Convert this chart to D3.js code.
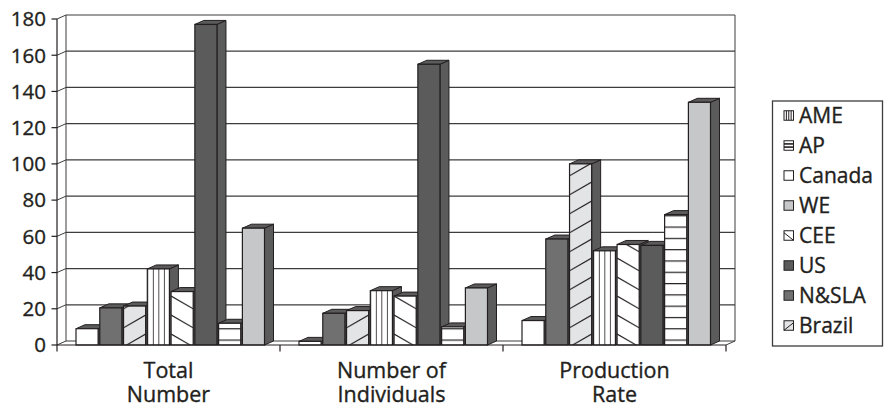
<!DOCTYPE html>
<html>
<head>
<meta charset="utf-8">
<script src="https://cdn.jsdelivr.net/npm/d3@7"></script>
<style>
  body { margin: 0; background: #fff; }
  svg { display: block; }
  text { font-family: "Open Sans", "Noto Sans", sans-serif; fill: #231f20; stroke: #231f20; stroke-width: 0.35px; }
</style>
</head>
<body>
<svg id="chart" width="884" height="406"></svg>
<script>
// categories, two text lines each
var categories = ["Total Number", "Number of Individuals", "Production Rate"];
var categoryLines = [["Total", "Number"], ["Number of", "Individuals"], ["Production", "Rate"]];

// legend order
var legendOrder = ["AME", "AP", "Canada", "WE", "CEE", "US", "N&SLA", "Brazil"];
// order of the bars inside each group
var barOrder = ["Canada", "N&SLA", "Brazil", "AME", "CEE", "US", "AP", "WE"];

// values per series: Total Number, Number of Individuals, Production Rate
var AME    = [42, 30, 52];
var AP     = [12, 10, 72];
var Canada = [9, 2, 13.5];
var WE     = [64.5, 31.5, 134];
var CEE    = [29.5, 27, 55.5];
var US     = [177, 155, 55];
var NSLA   = [20.5, 17.5, 58.5];
var Brazil = [21.5, 19, 100];

var yTicks = [0, 20, 40, 60, 80, 100, 120, 140, 160, 180];

var values = {"AME": AME, "AP": AP, "Canada": Canada, "WE": WE, "CEE": CEE,
              "US": US, "N&SLA": NSLA, "Brazil": Brazil};

var svg = d3.select("svg#chart");
var defs = svg.append("defs");

var ink = "#231f20",
    sideFill = "#5b5b5c",
    dx = 9, dy = -4;

var y = d3.scaleLinear().domain([0, 180]).range([345, 19]);
var x0 = d3.scaleBand().domain(categories).range([57, 726]);
var x1 = d3.scaleBand().domain(barOrder).range([19, 207.5]).paddingInner(0.07);

// fills / hatch kinds per series
var style = {
  "AME":    {fill: "#fff", hatch: "vert"},
  "AP":     {fill: "#fff", hatch: "horiz"},
  "Canada": {fill: "#fff"},
  "WE":     {fill: "#c6c7c8"},
  "CEE":    {fill: "#fff", hatch: "back"},
  "US":     {fill: "#5b5b5c"},
  "N&SLA":  {fill: "#707071"},
  "Brazil": {fill: "#e3e4e5", hatch: "fwd"}
};

// pattern anchored at (px, py) with tile matched to bar width w
function makePattern(id, kind, bg, px, py, w) {
  var p = defs.append("pattern").attr("id", id)
    .attr("patternUnits", "userSpaceOnUse");
  if (kind === "vert") {
    var sp = w / 4;
    p.attr("x", px).attr("y", py).attr("width", sp).attr("height", 10);
    p.append("rect").attr("width", sp).attr("height", 10).attr("fill", bg);
    p.append("line").attr("x1", 0).attr("x2", 0).attr("y1", 0).attr("y2", 10)
      .attr("stroke", ink).attr("stroke-width", 1.6);
  } else if (kind === "horiz") {
    p.attr("x", px).attr("y", py - 5.5).attr("width", 10).attr("height", 11.3);
    p.append("rect").attr("width", 10).attr("height", 11.3).attr("fill", bg);
    p.append("line").attr("x1", 0).attr("x2", 10).attr("y1", 0).attr("y2", 0)
      .attr("stroke", ink).attr("stroke-width", 2.4);
  } else {
    var th = 19, drop = w * 0.58;
    p.attr("x", px).attr("y", py).attr("width", w).attr("height", th);
    p.append("rect").attr("width", w).attr("height", th).attr("fill", bg);
    [-th, 0, th].forEach(function(o) {
      var a = 8 + o;
      p.append("line")
        .attr("x1", 0).attr("x2", w)
        .attr("y1", kind === "fwd" ? a + drop : a)
        .attr("y2", kind === "fwd" ? a : a + drop)
        .attr("stroke", ink).attr("stroke-width", 1.1);
    });
  }
  return "url(#" + id + ")";
}

// ---- walls and grid ----
var grid = svg.append("g");
grid.selectAll("line.gridline")
  .data(yTicks)
  .enter().append("line")
  .attr("class", "gridline")
  .attr("x1", x0.range()[0] + dx).attr("x2", x0.range()[1] + dx)
  .attr("y1", function(d) { return y(d) + dy; })
  .attr("y2", function(d) { return y(d) + dy; })
  .attr("stroke", "#3d3d3e").attr("stroke-width", 1.2);

// left wall diagonals
grid.selectAll("line.sidegrid")
  .data(yTicks)
  .enter().append("line")
  .attr("class", "sidegrid")
  .attr("x1", x0.range()[0]).attr("x2", x0.range()[0] + dx)
  .attr("y1", function(d) { return y(d); })
  .attr("y2", function(d) { return y(d) + dy; })
  .attr("stroke", "#3d3d3e").attr("stroke-width", 1);

// back wall verticals
grid.append("line")
  .attr("x1", x0.range()[0] + dx).attr("x2", x0.range()[0] + dx)
  .attr("y1", y(180) + dy).attr("y2", y(0) + dy)
  .attr("stroke", "#3d3d3e").attr("stroke-width", 1);
grid.append("line")
  .attr("x1", x0.range()[1] + dx).attr("x2", x0.range()[1] + dx)
  .attr("y1", y(180) + dy).attr("y2", y(0) + dy)
  .attr("stroke", "#3d3d3e").attr("stroke-width", 1);

// floor right diagonal
grid.append("line")
  .attr("x1", x0.range()[1]).attr("x2", x0.range()[1] + dx)
  .attr("y1", y(0)).attr("y2", y(0) + dy)
  .attr("stroke", "#3d3d3e").attr("stroke-width", 1);

// ---- bars ----
var bars = svg.append("g");
categories.forEach(function(cat, ci) {
  barOrder.forEach(function(s) {
    var v = values[s][ci],
        bx = x0(cat) + x1(s),
        w = x1.bandwidth(),
        yt = y(v), yb = y(0);
    var g = bars.append("g");
    // right side face
    g.append("polygon")
      .attr("points", [[bx + w, yt], [bx + w + dx, yt + dy], [bx + w + dx, yb + dy], [bx + w, yb]].join(" "))
      .attr("fill", sideFill).attr("stroke", ink).attr("stroke-width", 1).attr("stroke-linejoin", "round");
    // top face
    g.append("polygon")
      .attr("points", [[bx, yt], [bx + dx, yt + dy], [bx + w + dx, yt + dy], [bx + w, yt]].join(" "))
      .attr("fill", sideFill).attr("stroke", ink).attr("stroke-width", 1).attr("stroke-linejoin", "round");
    // front face
    var st = style[s];
    var fill = st.hatch ? makePattern("p" + ci + barOrder.indexOf(s), st.hatch, st.fill, bx, yb, w) : st.fill;
    g.append("rect")
      .attr("x", bx).attr("y", yt)
      .attr("width", w).attr("height", yb - yt)
      .attr("fill", fill).attr("stroke", ink).attr("stroke-width", 1.2);
  });
});

// ---- axes ----
var axes = svg.append("g");
axes.append("line")
  .attr("x1", x0.range()[0]).attr("x2", x0.range()[0])
  .attr("y1", y(180)).attr("y2", y(0))
  .attr("stroke", ink).attr("stroke-width", 1.2);
axes.append("line")
  .attr("x1", x0.range()[0]).attr("x2", x0.range()[1])
  .attr("y1", y(0)).attr("y2", y(0))
  .attr("stroke", ink).attr("stroke-width", 1.2);

axes.selectAll("line.ytick")
  .data(yTicks)
  .enter().append("line")
  .attr("class", "ytick")
  .attr("x1", x0.range()[0] - 5.5).attr("x2", x0.range()[0])
  .attr("y1", function(d) { return y(d); })
  .attr("y2", function(d) { return y(d); })
  .attr("stroke", ink).attr("stroke-width", 1.2);

axes.selectAll("text.ylab")
  .data(yTicks)
  .enter().append("text")
  .attr("class", "ylab")
  .attr("x", 46)
  .attr("y", function(d) { return y(d); })
  .attr("dy", "0.36em")
  .attr("text-anchor", "end")
  .style("font-size", "20.5px")
  .text(function(d) { return d; });

var xTickPos = categories.map(function(c) { return x0(c); }).concat([x0.range()[1]]);
axes.selectAll("line.xtick")
  .data(xTickPos)
  .enter().append("line")
  .attr("class", "xtick")
  .attr("x1", function(d) { return d; }).attr("x2", function(d) { return d; })
  .attr("y1", y(0)).attr("y2", y(0) + 6.5)
  .attr("stroke", ink).attr("stroke-width", 1.2);

categories.forEach(function(cat, ci) {
  var t = axes.append("text")
    .attr("text-anchor", "middle")
    .style("font-size", "21.5px");
  categoryLines[ci].forEach(function(line, li) {
    t.append("tspan")
      .attr("x", x0(cat) + x0.bandwidth() / 2)
      .attr("y", 377.5 + li * 24)
      .text(line);
  });
});

// ---- legend ----
var legend = svg.append("g");
legend.append("rect")
  .attr("x", 772.5).attr("y", 101)
  .attr("width", 110).attr("height", 245)
  .attr("fill", "#fff").attr("stroke", "#3d3d3e").attr("stroke-width", 1.3);

var sw = 9.5;
var item = legend.selectAll("g.item")
  .data(legendOrder)
  .enter().append("g")
  .attr("class", "item")
  .attr("transform", function(d, i) { return "translate(784," + (115.5 + i * 30) + ")"; });

item.append("rect")
  .attr("x", 0).attr("y", -sw / 2)
  .attr("width", sw).attr("height", sw)
  .attr("fill", function(d) { return style[d].fill; });

// small hatch marks inside the swatches
item.each(function(d) {
  var g = d3.select(this), k = style[d].hatch, segs = [];
  if (k === "vert") segs = [[sw / 4, -sw / 2, sw / 4, sw / 2], [sw / 2, -sw / 2, sw / 2, sw / 2], [3 * sw / 4, -sw / 2, 3 * sw / 4, sw / 2]];
  if (k === "horiz") segs = [[0, -sw / 6, sw, -sw / 6], [0, sw / 6, sw, sw / 6]];
  if (k === "back") segs = [[0, -sw / 2 + 2, sw, sw / 2]];
  if (k === "fwd") segs = [[0, sw / 2, sw, -sw / 2 + 2]];
  segs.forEach(function(c) {
    g.append("line")
      .attr("x1", c[0]).attr("y1", c[1]).attr("x2", c[2]).attr("y2", c[3])
      .attr("stroke", ink).attr("stroke-width", k === "horiz" ? 1.6 : 1);
  });
});

item.append("rect")
  .attr("x", 0).attr("y", -sw / 2)
  .attr("width", sw).attr("height", sw)
  .attr("fill", "none")
  .attr("stroke", ink).attr("stroke-width", 1);

item.append("text")
  .attr("x", 15)
  .attr("y", 0)
  .attr("dy", "0.36em")
  .style("font-size", "21px")
  .text(function(d) { return d; });
</script>
</body>
</html>
